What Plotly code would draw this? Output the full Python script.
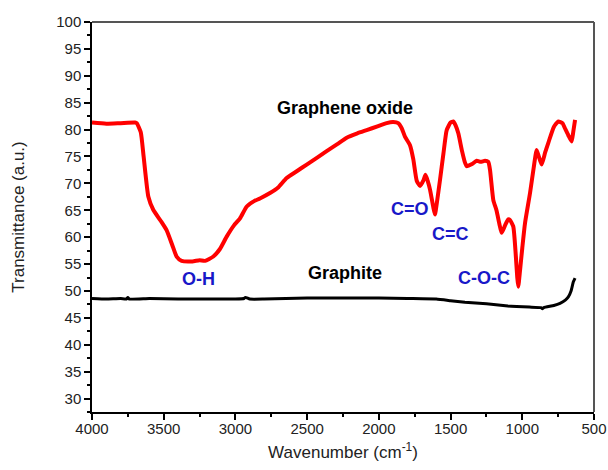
import plotly.graph_objects as go

# Graphene oxide FTIR spectrum (wavenumber cm^-1, transmittance a.u.)
go_wavenumber = [4000, 3900, 3800, 3700, 3688, 3660, 3640, 3607, 3573, 3520, 3480, 3440, 3410, 3375,
                 3300, 3250, 3212, 3154, 3108, 3061, 3010, 2968, 2921, 2870, 2829, 2759, 2700, 2643,
                 2570, 2503, 2430, 2364, 2290, 2224, 2150, 2085, 2010, 1946, 1900, 1865, 1840, 1818,
                 1783, 1760, 1736, 1713, 1690, 1675, 1660, 1643, 1620, 1609, 1595, 1574, 1550, 1527,
                 1500, 1481, 1465, 1446, 1420, 1400, 1388, 1350, 1318, 1290, 1260, 1237, 1225, 1202,
                 1180, 1160, 1144, 1120, 1098, 1086, 1063, 1045, 1035, 1028, 1015, 1000, 981, 946,
                 920, 900, 885, 865, 840, 819, 780, 749, 720, 702, 680, 656, 645, 632]
go_transmittance = [81.3, 81.1, 81.2, 81.3, 81.2, 79.5, 75.0, 67.5, 65.1, 63.0, 61.3, 58.5, 56.4, 55.6,
                    55.5, 55.7, 55.6, 56.4, 57.8, 60.1, 62.2, 63.5, 65.7, 66.7, 67.2, 68.2, 69.3, 71.0,
                    72.3, 73.5, 74.8, 76.0, 77.3, 78.5, 79.3, 79.9, 80.6, 81.2, 81.4, 81.2, 80.2, 78.7,
                    77.1, 74.5, 70.5, 69.5, 70.5, 71.6, 70.5, 68.8, 65.5, 64.2, 66.5, 70.6, 75.5, 79.9,
                    81.3, 81.5, 80.8, 79.3, 76.0, 73.9, 73.2, 73.6, 74.2, 74.0, 74.2, 74.0, 72.5, 66.9,
                    65.0, 62.5, 60.8, 62.2, 63.3, 63.2, 62.0, 56.5, 52.5, 50.8, 54.0, 58.0, 62.6, 68.2,
                    73.0, 76.2, 75.0, 73.5, 75.8, 77.5, 80.5, 81.5, 81.2, 80.2, 79.0, 77.8, 79.5, 81.8]

# Graphite FTIR spectrum
gr_wavenumber = [4000, 3900, 3800, 3760, 3750, 3740, 3600, 3400, 3200, 3000, 2940, 2930, 2900, 2800,
                 2500, 2200, 2000, 1800, 1600, 1500, 1400, 1300, 1200, 1100, 1040, 950, 870, 860,
                 850, 780, 737, 700, 679, 660, 644, 632]
gr_transmittance = [48.6, 48.5, 48.6, 48.5, 48.8, 48.5, 48.6, 48.5, 48.5, 48.5, 48.6, 48.8, 48.5, 48.5,
                    48.7, 48.7, 48.7, 48.6, 48.5, 48.2, 47.9, 47.7, 47.5, 47.2, 47.1, 47.0, 46.9, 46.7,
                    46.9, 47.3, 47.7, 48.3, 48.9, 50.0, 51.7, 52.4]

x_ticks = [4000, 3500, 3000, 2500, 2000, 1500, 1000, 500]
y_ticks = [30, 35, 40, 45, 50, 55, 60, 65, 70, 75, 80, 85, 90, 95, 100]

fig = go.Figure()
fig.add_trace(go.Scatter(x=gr_wavenumber, y=gr_transmittance, mode="lines",
                         line=dict(color="black", width=3, shape="spline", smoothing=0.4),
                         name="Graphite"))
fig.add_trace(go.Scatter(x=go_wavenumber, y=go_transmittance, mode="lines",
                         line=dict(color="#ff0000", width=4, shape="spline", smoothing=0.5),
                         name="Graphene oxide"))

blue = "#1818c8"
labels = [
    ("Graphene oxide", 2236, 84.1, "black"),
    ("Graphite", 2236, 53.4, "black"),
    ("O-H", 3259, 52.2, blue),
    ("C=O", 1783, 65.2, blue),
    ("C=C", 1504, 60.6, blue),
    ("C-O-C", 1267, 52.4, blue),
]
for text, xv, yv, col in labels:
    fig.add_annotation(x=xv, y=yv, xref="x", yref="y", text="<b>%s</b>" % text, showarrow=False,
                       font=dict(family="Liberation Sans, Arial, sans-serif", size=18, color=col))

# top / right frame lines (grey)
fig.add_shape(type="line", xref="paper", yref="paper", x0=0, x1=1, y0=1, y1=1,
              line=dict(color="#555555", width=2))
fig.add_shape(type="line", xref="paper", yref="paper", x0=1, x1=1, y0=0, y1=1,
              line=dict(color="#555555", width=2))

fig.update_layout(
    width=608, height=470,
    margin=dict(l=92, r=14, t=22, b=58),
    paper_bgcolor="white", plot_bgcolor="white",
    showlegend=False,
    font=dict(family="Liberation Sans, Arial, sans-serif", color="#222222"),
    xaxis=dict(range=[4000, 500], tickvals=x_ticks, ticktext=[str(v) for v in x_ticks],
               automargin=False,
               showgrid=False, zeroline=False, showline=True, linecolor="black", linewidth=1.5,
               ticks="outside", ticklen=6, tickwidth=1.5, tickcolor="black",
               ticklabelstandoff=-4,
               minor=dict(dtick=250, ticks="outside", ticklen=3, tickwidth=1.5, tickcolor="black"),
               tickfont=dict(size=15, color="#222222"),
               title=dict(text="Wavenumber (cm<sup>-1</sup>)", font=dict(size=17, color="#222222"),
                          standoff=10)),
    yaxis=dict(range=[27.5, 100], tickvals=y_ticks, ticktext=[str(v) for v in y_ticks],
               automargin=False,
               showgrid=False, zeroline=False, showline=True, linecolor="black", linewidth=1.5,
               ticks="outside", ticklen=6, tickwidth=1.5, tickcolor="black",
               minor=dict(dtick=2.5, ticks="outside", ticklen=3, tickwidth=1.5, tickcolor="black"),
               tickfont=dict(size=15, color="#222222"),
               title=dict(text="Transmittance (a.u.)", font=dict(size=17, color="#222222"),
                          standoff=27)),
)

fig.write_html("out.html",
               config={"displayModeBar": False},
               post_script="document.body.style.margin='0';document.body.style.overflow='hidden';")
